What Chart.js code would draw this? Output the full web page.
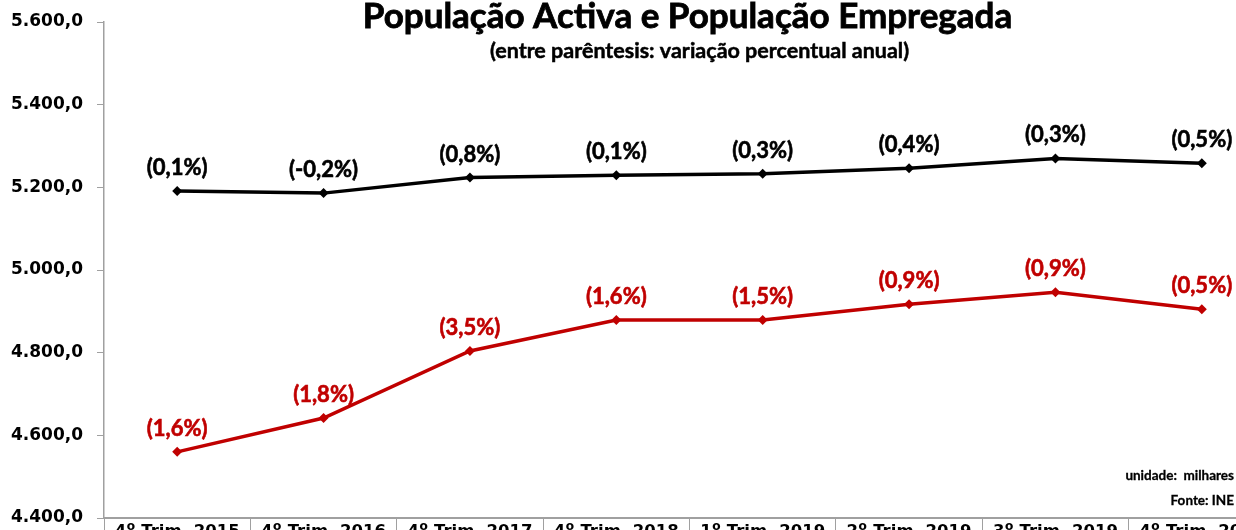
<!DOCTYPE html>
<html>
<head>
<meta charset="utf-8">
<script src="https://cdn.jsdelivr.net/npm/chart.js@4/dist/chart.umd.min.js"></script>
<style>
  html, body { margin: 0; padding: 0; background: #fff; overflow: hidden; }
  #wrap { position: relative; width: 1236px; height: 530px; overflow: hidden; }
  #grafico { position: absolute; left: 0; top: -20px; }
</style>
</head>
<body>
<div id="wrap"><canvas id="grafico" width="1300" height="580"></canvas></div>
<script>
// categorias do eixo x
const categorias = ['4º Trim. 2015', '4º Trim. 2016', '4º Trim. 2017', '4º Trim. 2018',
                    '1º Trim. 2019', '2º Trim. 2019', '3º Trim. 2019', '4º Trim. 2019'];

// valores (milhares)
const populacaoActiva    = [5191, 5186, 5224, 5229, 5233, 5246, 5270, 5258];
const populacaoEmpregada = [4560, 4642, 4804, 4879, 4879, 4917, 4946, 4905];

// variação percentual anual (etiquetas)
const variacaoActiva    = ['(0,1%)', '(-0,2%)', '(0,8%)', '(0,1%)', '(0,3%)', '(0,4%)', '(0,3%)', '(0,5%)'];
const variacaoEmpregada = ['(1,6%)', '(1,8%)', '(3,5%)', '(1,6%)', '(1,5%)', '(0,9%)', '(0,9%)', '(0,5%)'];

// eixo y
const yMin = 4400;
const yMax = 5600;
const yPasso = 200;

const titulo = 'População Activa e População Empregada';
const subtitulo = '(entre parêntesis: variação percentual anual)';
const notas = ['unidade:  milhares', 'Fonte: INE'];

// formata 5600 -> "5.600,0"
function formatar(v) {
    const inteiro = Math.round(v).toString().replace(/\B(?=(\d{3})+(?!\d))/g, '.');
    return inteiro + ',0';
}

// texto "negrito" mais carregado (traço fino por cima)
function escrever(ctx, texto, x, y, traco) {
    ctx.fillText(texto, x, y);
    ctx.lineWidth = traco;
    ctx.strokeStyle = ctx.fillStyle;
    ctx.strokeText(texto, x, y);
}

// desenha título, etiquetas e notas
const textosPlugin = {
    id: 'textos',
    afterDatasetsDraw(chart) {
        const ctx = chart.ctx;
        const area = chart.chartArea;
        ctx.save();

        const cx = area.left + (area.right - area.left) / 2;
        ctx.fillStyle = '#000';
        ctx.textAlign = 'center';
        ctx.textBaseline = 'alphabetic';
        ctx.font = 'bold 35px Lato';
        escrever(ctx, titulo, cx - 2, 48, 0.8);
        ctx.font = 'bold 21.5px Lato';
        escrever(ctx, subtitulo, cx + 10, 78, 0.5);

        // etiquetas de variação
        const etiquetas = [variacaoActiva, variacaoEmpregada];
        chart.data.datasets.forEach((ds, i) => {
            const meta = chart.getDatasetMeta(i);
            ctx.fillStyle = ds.borderColor;
            ctx.font = 'bold 22px Lato';
            ctx.textBaseline = 'middle';
            meta.data.forEach((p, j) => {
                escrever(ctx, etiquetas[i][j], p.x, p.y - 23, 0.6);
            });
        });

        // notas no canto inferior direito
        ctx.fillStyle = '#000';
        ctx.font = 'bold 13.5px Lato';
        ctx.textAlign = 'right';
        ctx.textBaseline = 'alphabetic';
        escrever(ctx, notas[0], 1234, 500, 0.3);
        escrever(ctx, notas[1], 1234, 525, 0.3);
        ctx.restore();
    }
};

new Chart(document.getElementById('grafico'), {
    type: 'line',
    data: {
        labels: categorias,
        datasets: [{
            label: 'População Activa',
            data: populacaoActiva,
            borderColor: '#000000',
            backgroundColor: '#000000',
            borderWidth: 3.5,
            pointStyle: 'rectRot',
            pointRadius: 5,
            pointBorderWidth: 0,
            tension: 0
        }, {
            label: 'População Empregada',
            data: populacaoEmpregada,
            borderColor: '#c00000',
            backgroundColor: '#c00000',
            borderWidth: 3.5,
            pointStyle: 'rectRot',
            pointRadius: 5,
            pointBorderWidth: 0,
            tension: 0
        }]
    },
    options: {
        responsive: false,
        animation: false,
        layout: { padding: { top: 42, right: 25, bottom: 0, left: 0 } },
        plugins: {
            legend: { display: false },
            title: { display: false },
            tooltip: { enabled: false }
        },
        scales: {
            x: {
                offset: true,
                afterFit: s => { s.height = 42; },
                grid: {
                    offset: true,
                    drawOnChartArea: false,
                    drawTicks: true,
                    tickLength: 30,
                    color: '#a0a0a0'
                },
                border: { display: true, color: '#a0a0a0', width: 2 },
                ticks: {
                    color: '#000',
                    padding: -26,
                    maxRotation: 0,
                    autoSkip: false,
                    font: { family: 'DejaVu Sans', weight: 'bold', size: 16.5 }
                }
            },
            y: {
                min: yMin,
                max: yMax,
                afterFit: s => { s.width = 104; },
                grid: {
                    drawOnChartArea: false,
                    drawTicks: true,
                    tickLength: 7,
                    color: '#a0a0a0'
                },
                border: { display: true, color: '#a0a0a0', width: 1.5 },
                ticks: {
                    stepSize: yPasso,
                    color: '#000',
                    padding: 14,
                    font: { family: 'DejaVu Sans', weight: 'bold', size: 17 },
                    callback: v => formatar(v)
                }
            }
        }
    },
    plugins: [textosPlugin]
});
</script>
</body>
</html>
